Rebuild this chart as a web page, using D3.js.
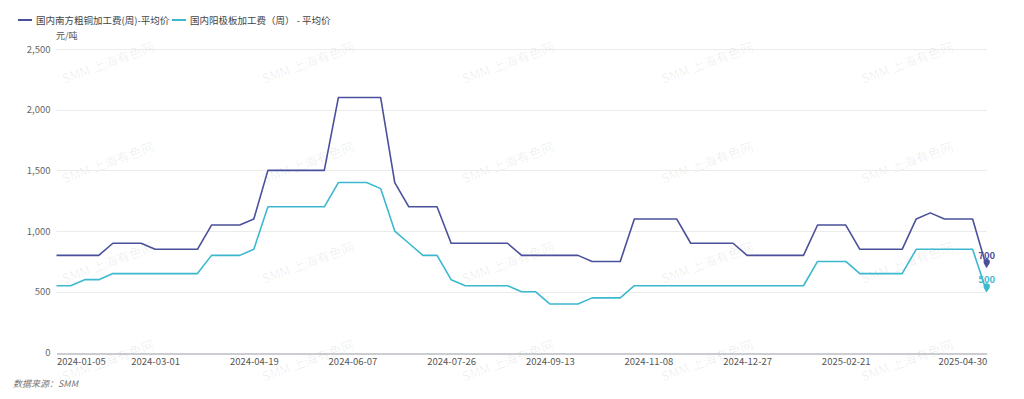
<!DOCTYPE html>
<html>
<head>
<meta charset="utf-8">
<script src="https://cdn.jsdelivr.net/npm/d3@7/dist/d3.min.js"></script>
<style>
  html, body { margin: 0; padding: 0; background: #fff; }
  svg { display: block; font-family: "Noto Sans CJK SC", "Noto Sans", sans-serif; }
</style>
</head>
<body>
<svg id="chart" width="1024" height="399"></svg>
<script>
// ---- data ----
const categories = [
  "2024-01-05","2024-01-12","2024-01-19","2024-01-26","2024-02-02","2024-02-08","2024-02-23",
  "2024-03-01","2024-03-08","2024-03-15","2024-03-22","2024-03-29","2024-04-03","2024-04-12",
  "2024-04-19","2024-04-26","2024-04-30","2024-05-10","2024-05-17","2024-05-24","2024-05-31",
  "2024-06-07","2024-06-14","2024-06-21","2024-06-28","2024-07-05","2024-07-12","2024-07-19",
  "2024-07-26","2024-08-02","2024-08-09","2024-08-16","2024-08-23","2024-08-30","2024-09-06",
  "2024-09-13","2024-09-20","2024-09-27","2024-10-11","2024-10-18","2024-10-25","2024-11-01",
  "2024-11-08","2024-11-15","2024-11-22","2024-11-29","2024-12-06","2024-12-13","2024-12-20",
  "2024-12-27","2025-01-03","2025-01-10","2025-01-17","2025-01-24","2025-02-07","2025-02-14",
  "2025-02-21","2025-02-28","2025-03-07","2025-03-14","2025-03-21","2025-03-28","2025-04-03",
  "2025-04-11","2025-04-18","2025-04-25","2025-04-30"
];
const seriesNames = ["国内南方粗铜加工费(周)-平均价", "国内阳极板加工费（周） - 平均价"];
const blisterCopper = [
  800,800,800,800,900,900,900,
  850,850,850,850,1050,1050,1050,
  1100,1500,1500,1500,1500,1500,2100,
  2100,2100,2100,1400,1200,1200,1200,
  900,900,900,900,900,800,800,
  800,800,800,750,750,750,1100,
  1100,1100,1100,900,900,900,900,
  800,800,800,800,800,1050,1050,
  1050,850,850,850,850,1100,1150,
  1100,1100,1100,700
];
const anodePlate = [
  550,550,600,600,650,650,650,
  650,650,650,650,800,800,800,
  850,1200,1200,1200,1200,1200,1400,
  1400,1400,1350,1000,900,800,800,
  600,550,550,550,550,500,500,
  400,400,400,450,450,450,550,
  550,550,550,550,550,550,550,
  550,550,550,550,550,750,750,
  750,650,650,650,650,850,850,
  850,850,850,500
];
const xTickLabels = ["2024-01-05","2024-03-01","2024-04-19","2024-06-07","2024-07-26",
  "2024-09-13","2024-11-08","2024-12-27","2025-02-21","2025-04-30"];
const yTicks = [0, 500, 1000, 1500, 2000, 2500];
const unitLabel = "元/吨";
const sourceLabel = "数据来源：SMM";
const watermarkText = "SMM 上海有色网";

// ---- drawing ----
const colors = ["#4a509b", "#3cb8cf"];
const svg = d3.select("#chart");

const x = d3.scalePoint().domain(categories).range([56.5, 986.7]);
const y = d3.scaleLinear().domain([0, 2500]).range([352.5, 49]);

// watermark
const wm = svg.append("g");
[108, 308, 508, 707, 907].forEach(cx => {
  [62, 162, 262, 360].forEach(cy => {
    wm.append("text")
      .attr("transform", `translate(${cx},${cy}) rotate(-20)`)
      .attr("text-anchor", "middle")
      .attr("dominant-baseline", "central")
      .attr("font-size", 13)
      .attr("fill", "rgba(0,0,0,0.07)")
      .text(watermarkText);
  });
});

// grid lines
svg.append("g").selectAll("line").data(yTicks.filter(d => d > 0)).join("line")
  .attr("x1", x.range()[0]).attr("x2", x.range()[1])
  .attr("y1", d => Math.round(y(d)) + 0.5).attr("y2", d => Math.round(y(d)) + 0.5)
  .attr("stroke", "#ebebeb").attr("stroke-width", 1);

// y axis
const yAxis = svg.append("g")
  .attr("transform", `translate(${x.range()[0]},0)`)
  .call(d3.axisLeft(y).tickValues(yTicks).tickFormat(d3.format(",")).tickSize(0).tickPadding(6));
yAxis.select(".domain").remove();
yAxis.selectAll("text").attr("font-size", 9.5).attr("fill", "#666")
  .attr("font-family", "\"Noto Sans CJK SC\", \"Noto Sans\", sans-serif");

// x axis
const xAxis = svg.append("g")
  .attr("transform", `translate(0,${Math.round(y(0)) + 0.5})`)
  .call(d3.axisBottom(x).tickValues(xTickLabels).tickSize(0).tickPadding(5));
xAxis.select(".domain").attr("stroke", "#979ca5").attr("stroke-width", 1.2);
xAxis.selectAll("text").attr("font-size", 9.5).attr("fill", "#555")
  .attr("font-family", "\"Noto Sans CJK SC\", \"Noto Sans\", sans-serif")
  .attr("text-anchor", (d, i, n) => i === 0 ? "start" : (i === n.length - 1 ? "end" : "middle"));

// lines
const line = d3.line().x((d, i) => x(categories[i])).y(d => y(d));
[blisterCopper, anodePlate].forEach((s, k) => {
  svg.append("path").datum(s)
    .attr("fill", "none").attr("stroke", colors[k]).attr("stroke-width", 1.6)
    .attr("stroke-linejoin", "round")
    .attr("d", line);
  const li = s.length - 1;
  const px = x(categories[li]), py = y(s[li]);
  svg.append("path")
    .attr("transform", `translate(${px},${py})`)
    .attr("d", "M0,0 C-0.8,-1.6 -3.2,-3.2 -3.2,-5.4 A3.2,3.2 0 1 1 3.2,-5.4 C3.2,-3.2 0.8,-1.6 0,0Z")
    .attr("fill", colors[k]);
  svg.append("text")
    .attr("x", px).attr("y", py - 12.5)
    .attr("text-anchor", "middle").attr("dominant-baseline", "central")
    .attr("font-size", 9.5).attr("font-weight", "bold").attr("fill", colors[k])
    .text(s[li]);
});

// legend
const legendX = [18, 172];
seriesNames.forEach((name, k) => {
  const g = svg.append("g").attr("transform", `translate(${legendX[k]},20)`);
  g.append("line").attr("x1", 0).attr("x2", 14).attr("y1", 0).attr("y2", 0)
    .attr("stroke", colors[k]).attr("stroke-width", 2);
  g.append("text").attr("x", 18).attr("y", 0).attr("dominant-baseline", "central")
    .attr("font-size", 9.5).attr("fill", "#444").text(name);
});

// unit
svg.append("text").attr("x", 56).attr("y", 35).attr("dominant-baseline", "central")
  .attr("font-size", 9).attr("fill", "#555").text(unitLabel);

// source
svg.append("text").attr("x", 13).attr("y", 383).attr("dominant-baseline", "central")
  .attr("font-size", 9).attr("font-style", "italic").attr("fill", "#777").text(sourceLabel);
</script>
</body>
</html>
